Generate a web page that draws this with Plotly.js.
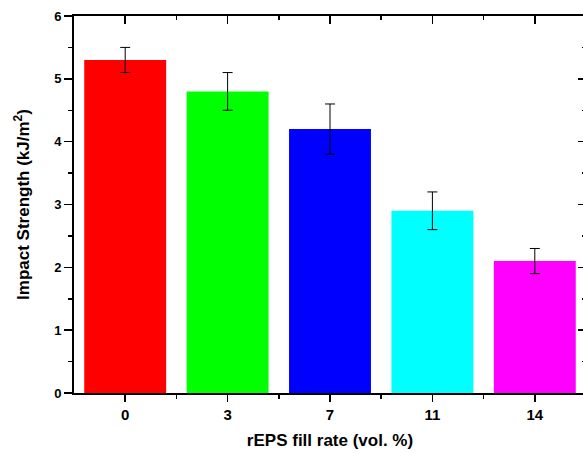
<!DOCTYPE html>
<html>
<head>
<meta charset="utf-8">
<script src="https://cdn.plot.ly/plotly-3.0.1.min.js"></script>
<style>
html,body{margin:0;padding:0;overflow:hidden;background:#fff;}
#chart{width:586px;height:454px;}
</style>
</head>
<body>
<div id="chart"></div>
<script>
const categories = ["0", "3", "7", "11", "14"];
const impactStrength = [5.3, 4.8, 4.2, 2.9, 2.1];
const errorValues = [0.2, 0.3, 0.4, 0.3, 0.2];
const barColors = ["#ff0000", "#00ff00", "#0000ff", "#00ffff", "#ff00ff"];
const yTicks = [0, 1, 2, 3, 4, 5, 6];

const positions = categories.map((c, i) => i);
const minorX = positions.slice(0, -1).map(p => p + 0.5);
const fontFam = "Arial, 'Liberation Sans', sans-serif";

const traces = [
  {
    type: "bar",
    x: positions,
    y: impactStrength,
    width: 0.8,
    marker: {color: barColors, line: {width: 0}},
    error_y: {type: "data", array: errorValues, visible: true, color: "#000", thickness: 1, width: 5},
    hoverinfo: "skip",
    showlegend: false
  },
  {
    type: "scatter", mode: "markers",
    x: [0], y: [0], xaxis: "x2", yaxis: "y2",
    marker: {opacity: 0}, hoverinfo: "skip", showlegend: false
  }
];

const axisCommon = {
  showgrid: false, zeroline: false, showline: true,
  linecolor: "#000", linewidth: 2, tickcolor: "#000", tickwidth: 1.5
};

const layout = {
  width: 586, height: 454,
  margin: {l: 74, r: 0, t: 16, b: 61},
  paper_bgcolor: "#fff", plot_bgcolor: "#fff",
  font: {family: fontFam, color: "#000"},
  xaxis: Object.assign({}, axisCommon, {
    range: [-0.5, 4.5],
    tickmode: "array", tickvals: positions, ticktext: categories,
    ticks: "outside", ticklen: 7,
    tickfont: {size: 15, weight: "bold", family: fontFam},
    minor: {tickvals: minorX, ticks: "outside", ticklen: 4, tickcolor: "#000", tickwidth: 1.5, showgrid: false},
    title: {text: "rEPS fill rate (vol. %)", font: {size: 17, weight: "bold", family: fontFam}, standoff: 12},
    automargin: false
  }),
  xaxis2: Object.assign({}, axisCommon, {
    overlaying: "x", side: "top", anchor: "y",
    range: [-0.5, 4.5],
    tickmode: "array", tickvals: positions,
    ticks: "inside", ticklen: 8, showticklabels: false,
    minor: {tickvals: minorX, ticks: "inside", ticklen: 4, tickcolor: "#000", tickwidth: 1.5, showgrid: false}
  }),
  yaxis: Object.assign({}, axisCommon, {
    range: [0, 6],
    tickmode: "array", tickvals: yTicks,
    ticks: "outside", ticklen: 8,
    tickfont: {size: 13, weight: "bold", family: fontFam},
    minor: {dtick: 0.5, tick0: 0, ticks: "outside", ticklen: 4, tickcolor: "#000", tickwidth: 1.5, showgrid: false},
    title: {text: "Impact Strength (kJ/m<sup>2</sup>)", font: {size: 17, weight: "bold", family: fontFam}},
    automargin: false
  }),
  yaxis2: Object.assign({}, axisCommon, {
    overlaying: "y", side: "right", anchor: "x",
    range: [0, 6],
    tickmode: "array", tickvals: yTicks,
    ticks: "inside", ticklen: 8, showticklabels: false,
    minor: {dtick: 0.5, tick0: 0, ticks: "inside", ticklen: 4, tickcolor: "#000", tickwidth: 1.5, showgrid: false}
  })
};

Plotly.newPlot("chart", traces, layout, {displayModeBar: false, staticPlot: true});
</script>
</body>
</html>
